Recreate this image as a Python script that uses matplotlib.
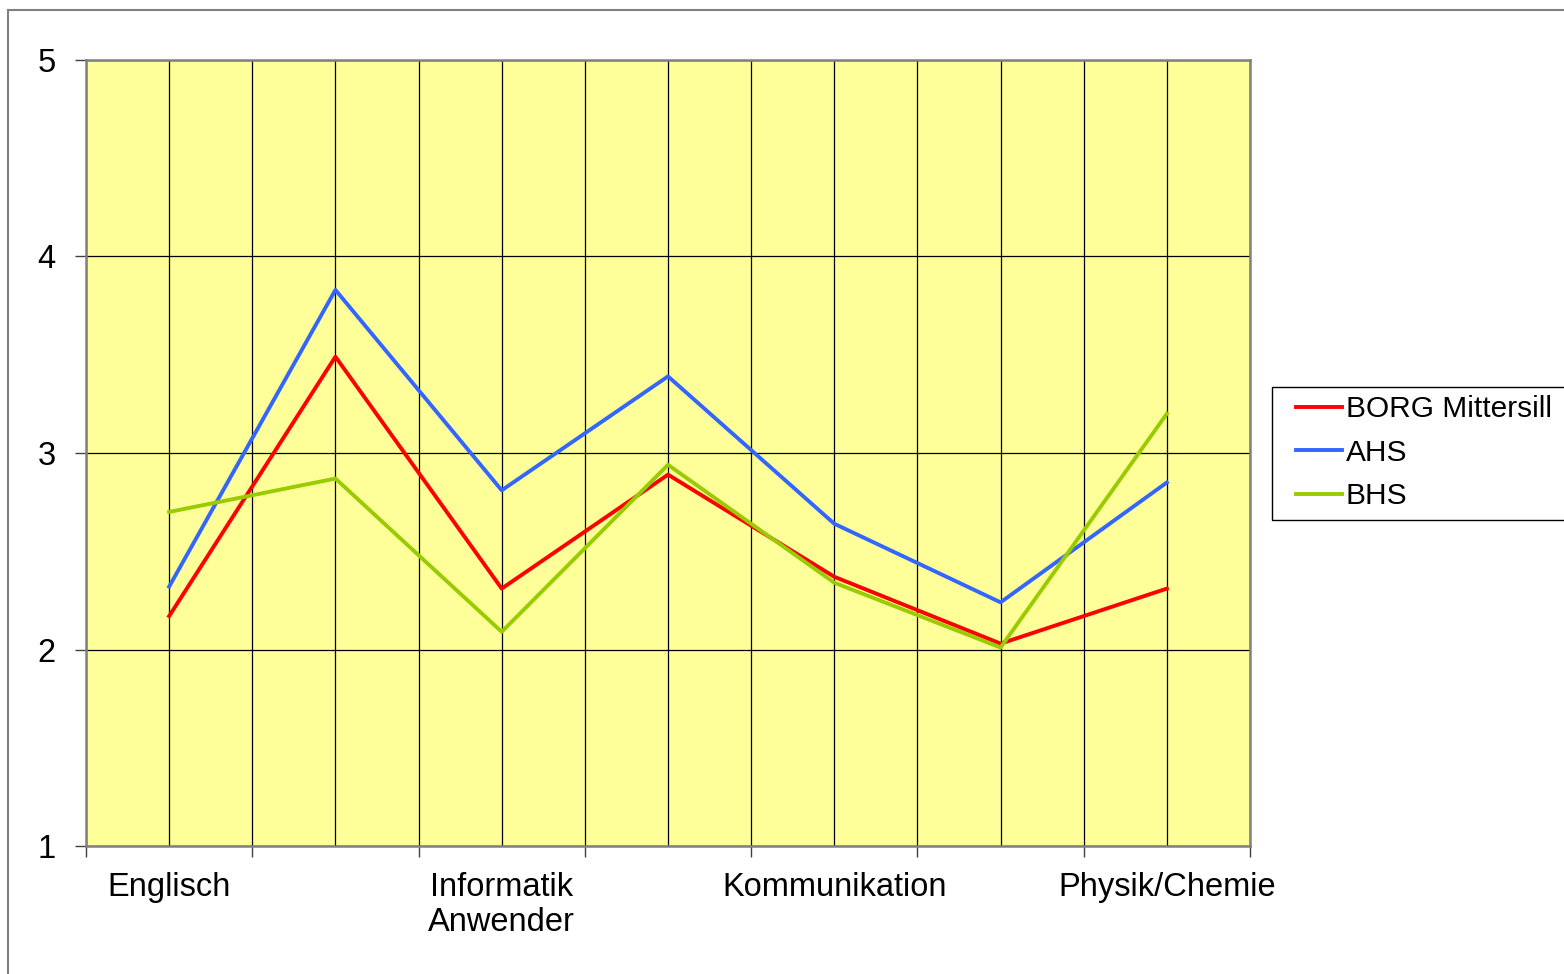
import matplotlib
matplotlib.use("Agg")
import matplotlib.pyplot as plt
from matplotlib.lines import Line2D
from matplotlib.patches import Rectangle

plt.rcParams["font.family"] = ["Liberation Sans", "DejaVu Sans"]

# categories (only every other one carries a visible label in the original)
categories = ["Englisch", "", "Informatik\nAnwender", "", "Kommunikation", "", "Physik/Chemie"]
borg = [2.17, 3.49, 2.31, 2.89, 2.37, 2.03, 2.31]
ahs = [2.32, 3.83, 2.81, 3.39, 2.64, 2.24, 2.85]
bhs = [2.70, 2.87, 2.09, 2.94, 2.34, 2.01, 3.20]
yticks = [1, 2, 3, 4, 5]

FS = 23.5
W, H = 1564, 974
fig = plt.figure(figsize=(W / 100, H / 100), dpi=100)
ax = fig.add_axes([86 / W, (H - 846) / H, 1164 / W, 786 / H])
ax.set_facecolor("#FFFF99")

x = list(range(len(categories)))
ax.plot(x, borg, color="#FF0000", lw=2.8, label="BORG Mittersill", zorder=3)
ax.plot(x, ahs, color="#3366FF", lw=2.8, label="AHS", zorder=3)
ax.plot(x, bhs, color="#99CC00", lw=2.8, label="BHS", zorder=3)

ax.set_xlim(-0.5, len(categories) - 0.5)
ax.set_ylim(1, 5)
ax.set_yticks(yticks)
ax.set_yticklabels([str(v) for v in yticks], fontsize=FS)

# boundaries: major ticks with marks; centres: minor ticks holding labels
bounds = [i - 0.5 for i in range(len(categories) + 1)]
ax.set_xticks(bounds)
ax.set_xticklabels([""] * len(bounds))
ax.set_xticks(x, minor=True)
ax.set_xticklabels(categories, minor=True, fontsize=FS, linespacing=1.15)

ax.tick_params(axis="x", which="major", direction="out", length=8, width=1, color="#404040")
ax.tick_params(axis="x", which="minor", length=0, pad=19)
ax.tick_params(axis="y", direction="out", length=8, width=1, color="#404040", pad=14)

ax.grid(True, which="both", axis="x", color="black", lw=0.9, zorder=1)
ax.grid(True, which="major", axis="y", color="black", lw=0.9, zorder=1)
ax.set_axisbelow(True)

for side in ["left", "bottom", "right", "top"]:
    ax.spines[side].set_color("#808080")
    ax.spines[side].set_linewidth(1.8)

# legend without its own frame; the box is drawn separately (runs off the right edge)
leg = fig.legend(loc="upper left", bbox_to_anchor=(1296 / W, 1 - 395 / H),
                 fontsize=21.5, frameon=False, handlelength=1.55,
                 handletextpad=0.12, borderpad=0, labelspacing=0.52,
                 borderaxespad=0)
fig.add_artist(Rectangle((1272 / W, 1 - 520 / H), (W - 1272 + 5) / W, 133 / H,
                         transform=fig.transFigure, fill=False,
                         edgecolor="black", lw=1))

# chart-area frame (right and bottom edges fall outside the picture)
fig.add_artist(Line2D([8 / W, 8 / W], [0, 1 - 10 / H], transform=fig.transFigure,
                      color="#808080", lw=1.5))
fig.add_artist(Line2D([8 / W, 1], [1 - 10 / H, 1 - 10 / H], transform=fig.transFigure,
                      color="#808080", lw=1.5))

fig.savefig("out.png", dpi=100)
